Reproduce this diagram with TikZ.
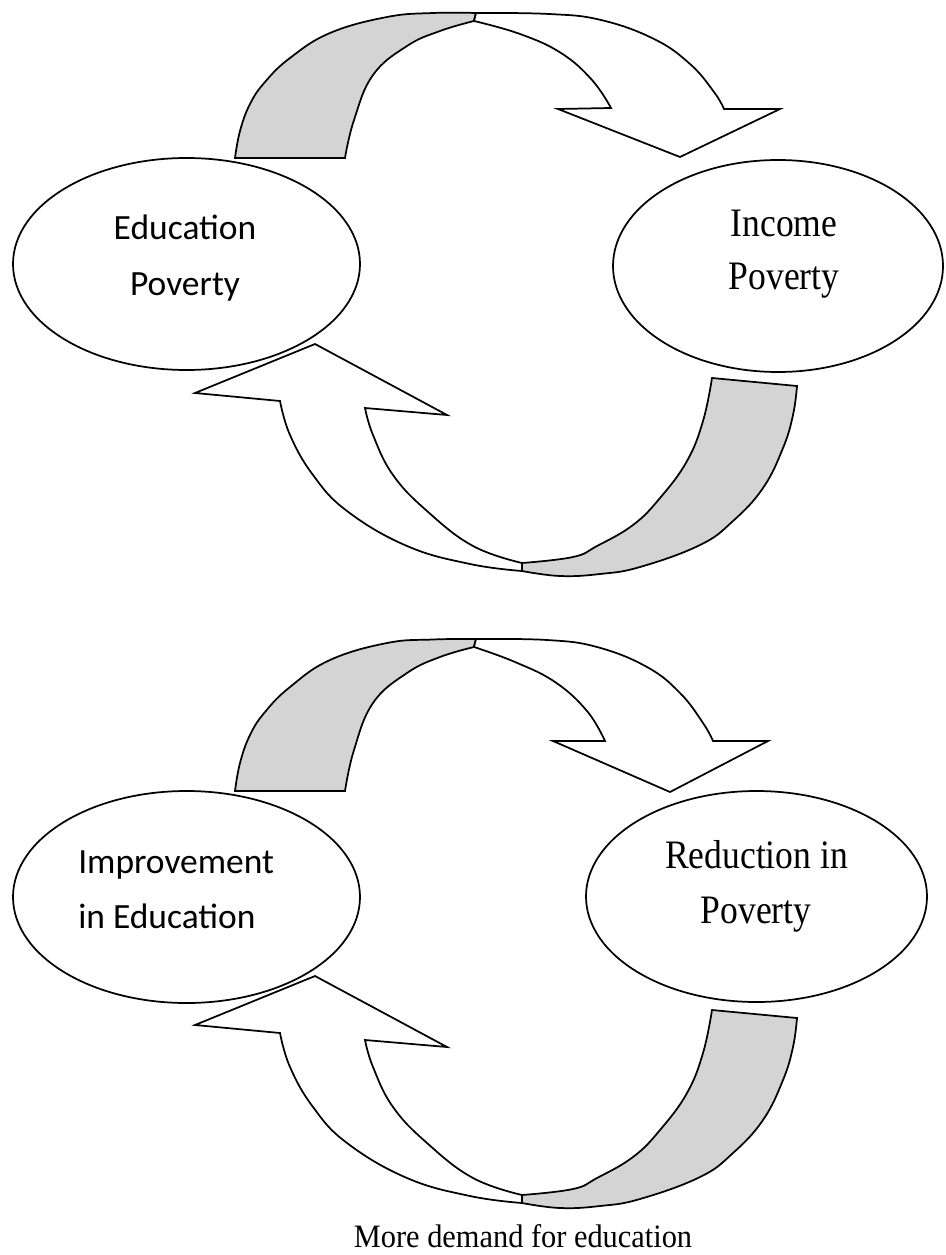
\documentclass[tikz,border=0pt]{standalone}
\usepackage{fontspec}
\setmainfont{Liberation Serif}
\newfontfamily\bubblesans{Carlito}
\newfontfamily\bubbleserif[FakeStretch=0.88]{Liberation Serif}
\newfontfamily\captionserif[FakeStretch=0.93]{Liberation Serif}
\usetikzlibrary{shapes.geometric}
\definecolor{ribbon}{RGB}{212,212,212}
\begin{document}
\begin{tikzpicture}[x=0.75pt,y=-0.75pt,
  bubble/.style={ellipse, draw, line width=1.3pt, fill=white, inner sep=0pt, outer sep=0pt},
  sanstext/.style={anchor=base, inner sep=0pt, font=\bubblesans\fontsize{26.6}{32}\selectfont},
  seriftext/.style={anchor=base, inner sep=0pt, font=\bubbleserif\fontsize{30.3}{36}\selectfont},
  band/.style={draw, line width=1.3pt, fill=ribbon},
  arrowbody/.style={draw, line width=1.3pt, fill=white},
  smoothline/.style={smooth, tension=0.7}]
\useasboundingbox (0,0) rectangle (945,1255);

% ---------- first cycle ----------
\node[bubble, minimum width=260.25pt, minimum height=159pt] (edupov) at (186.5,264) {};
\node[bubble, minimum width=247.5pt, minimum height=159pt] (incpov) at (778,266) {};
\node[sanstext] (edupovA) at (185,239) {Education};
\node[sanstext] (edupovB) at (185,295) {Poverty};
\node[seriftext] (incpovA) at (784,237) {Income};
\node[seriftext] (incpovB) at (784,289) {Poverty};

% upper curved arrow: shaded rising part
\path[band] plot[smoothline] coordinates {(235,158) (240,131) (250,104) (265,82) (290,58) (330,33) (387,17) (433,13) (476,13)}
  -- plot[smoothline] coordinates {(474,21) (440,31) (407,46) (373,75) (354,120) (345,158)} -- cycle;
% upper curved arrow: white falling part with head
\path[arrowbody] plot[smoothline] coordinates {(476,13) (549,14) (601,20) (654,39) (690,64) (714,92) (724,109)}
  -- (780,109) -- (680,157) -- (558,109)
  -- plot[smoothline] coordinates {(611,108) (592,80) (561,53) (520,34) (474,21)} -- cycle;

% lower curved arrow (same shape as in the second cycle)
\begin{scope}[shift={(0,-632)}]
\path[arrowbody] plot[smoothline] coordinates {(522,1203) (470,1196) (407,1178) (347,1143) (313,1107) (290,1067) (280,1033)}
  -- (195,1025) -- (315,976) -- (447,1047)
  -- plot[smoothline] coordinates {(365,1040) (373,1067) (393,1107) (427,1143) (473,1178) (522,1195)} -- cycle;
\path[band] plot[smoothline] coordinates {(522,1203) (560,1208) (600,1206) (640,1199) (700,1177) (733,1153) (763,1120) (783,1080) (793,1047) (797,1018)}
  -- plot[smoothline] coordinates {(712,1010) (703,1053) (687,1093) (660,1130) (633,1157) (597,1178) (573,1189) (522,1195)} -- cycle;
\end{scope}

% ---------- second cycle ----------
\node[bubble, minimum width=260.25pt, minimum height=159pt] (impedu) at (186.5,897) {};
\node[bubble, minimum width=255.75pt, minimum height=158.25pt] (redpov) at (756.5,896.5) {};
\node[sanstext, anchor=base west] (impeduA) at (78,873) {Improvement};
\node[sanstext, anchor=base west] (impeduB) at (78,928) {in Education};
\node[seriftext] (redpovA) at (756.5,868) {Reduction in};
\node[seriftext] (redpovB) at (756,923) {Poverty};

\path[band] plot[smoothline] coordinates {(235,791) (240,763) (250,735) (265,712) (290,687) (330,660) (387,643) (433,639.5) (476,639)}
  -- plot[smoothline] coordinates {(474,647) (440,657) (407,673) (373,703) (354,750) (345,791)} -- cycle;
\path[arrowbody] plot[smoothline] coordinates {(476,639) (547,640) (597,647) (647,667) (680,693) (703,723) (713,741)}
  -- (768,741) -- (670,792) -- (553,741)
  -- plot[smoothline] coordinates {(605,741) (587,711) (555,682) (515,662) (474,647)} -- cycle;

\path[arrowbody] plot[smoothline] coordinates {(522,1203) (470,1196) (407,1178) (347,1143) (313,1107) (290,1067) (280,1033)}
  -- (195,1025) -- (315,976) -- (447,1047)
  -- plot[smoothline] coordinates {(365,1040) (373,1067) (393,1107) (427,1143) (473,1178) (522,1195)} -- cycle;
\path[band] plot[smoothline] coordinates {(522,1203) (560,1208) (600,1206) (640,1199) (700,1177) (733,1153) (763,1120) (783,1080) (793,1047) (797,1018)}
  -- plot[smoothline] coordinates {(712,1010) (703,1053) (687,1093) (660,1130) (633,1157) (597,1178) (573,1189) (522,1195)} -- cycle;

\node[anchor=base, inner sep=0pt, font=\captionserif\fontsize{24.5}{30}\selectfont] (demand) at (523,1247) {More demand for education};
\end{tikzpicture}
\end{document}
